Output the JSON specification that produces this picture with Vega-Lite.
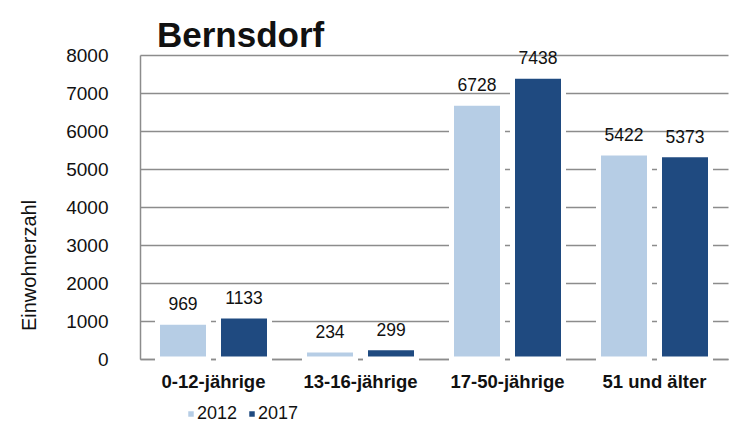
{
  "$schema": "https://vega.github.io/schema/vega-lite/v6.json",
  "width": 588,
  "height": 304,
  "autosize": {"type": "none"},
  "padding": {"left": 140, "top": 55, "right": 13, "bottom": 69},
  "background": "white",
  "config": {
    "font": "Liberation Sans",
    "view": {"stroke": null}
  },
  "title": {
    "text": "Bernsdorf",
    "anchor": "start",
    "frame": "group",
    "fontSize": 35,
    "fontWeight": "bold",
    "color": "#111",
    "baseline": "alphabetic",
    "dx": 17,
    "dy": 43,
    "offset": 7
  },
  "data": {
    "values": [
      {"group": "0-12-jährige", "year": "2012", "value": 969},
      {"group": "0-12-jährige", "year": "2017", "value": 1133},
      {"group": "13-16-jährige", "year": "2012", "value": 234},
      {"group": "13-16-jährige", "year": "2017", "value": 299},
      {"group": "17-50-jährige", "year": "2012", "value": 6728},
      {"group": "17-50-jährige", "year": "2017", "value": 7438},
      {"group": "51 und älter", "year": "2012", "value": 5422},
      {"group": "51 und älter", "year": "2017", "value": 5373}
    ]
  },
  "encoding": {
    "x": {
      "field": "group",
      "type": "nominal",
      "sort": null,
      "scale": {"paddingInner": 0.238, "paddingOuter": 0.119},
      "axis": {
        "title": null,
        "labelAngle": 0,
        "labelFontSize": 18.5,
        "labelFontWeight": "bold",
        "labelColor": "#111",
        "labelPadding": 13,
        "ticks": false,
        "domainColor": "#8c8c8c",
        "domainWidth": 1.5,
        "grid": false
      }
    },
    "xOffset": {
      "field": "year",
      "type": "nominal",
      "scale": {"paddingInner": 0.164, "paddingOuter": 0}
    },
    "y": {
      "field": "value",
      "type": "quantitative",
      "scale": {"domain": [0, 8000], "nice": false},
      "axis": {
        "title": "Einwohnerzahl",
        "titleFontSize": 20,
        "titleFontWeight": "normal",
        "titleColor": "#111",
        "titleX": -111,
        "titleY": 210,
        "titleAngle": -90,
        "titleAlign": "center",
        "titleBaseline": "middle",
        "values": [0, 1000, 2000, 3000, 4000, 5000, 6000, 7000, 8000],
        "format": "d",
        "labelFontSize": 19,
        "labelColor": "#111",
        "labelPadding": 32,
        "ticks": false,
        "domainColor": "#8c8c8c",
        "domainWidth": 1.5,
        "gridColor": "#8c8c8c",
        "gridWidth": 1.3
      }
    }
  },
  "layer": [
    {
      "mark": {"type": "bar", "stroke": "white", "strokeWidth": 5},
      "encoding": {
        "color": {
          "field": "year",
          "type": "nominal",
          "scale": {"domain": ["2012", "2017"], "range": ["#b6cde5", "#1f4a80"]},
          "legend": {
            "title": null,
            "orient": "none",
            "direction": "horizontal",
            "legendX": 42,
            "legendY": 350,
            "symbolType": "square",
            "symbolSize": 30,
            "symbolStrokeWidth": 0,
            "labelFontSize": 18,
            "labelColor": "#111",
            "labelOffset": -3,
            "columnPadding": 5
          }
        }
      }
    },
    {
      "mark": {"type": "text", "baseline": "alphabetic", "dy": -12, "fontSize": 17.5, "color": "#111"},
      "encoding": {
        "text": {"field": "value", "type": "quantitative", "format": "d"}
      }
    }
  ]
}
